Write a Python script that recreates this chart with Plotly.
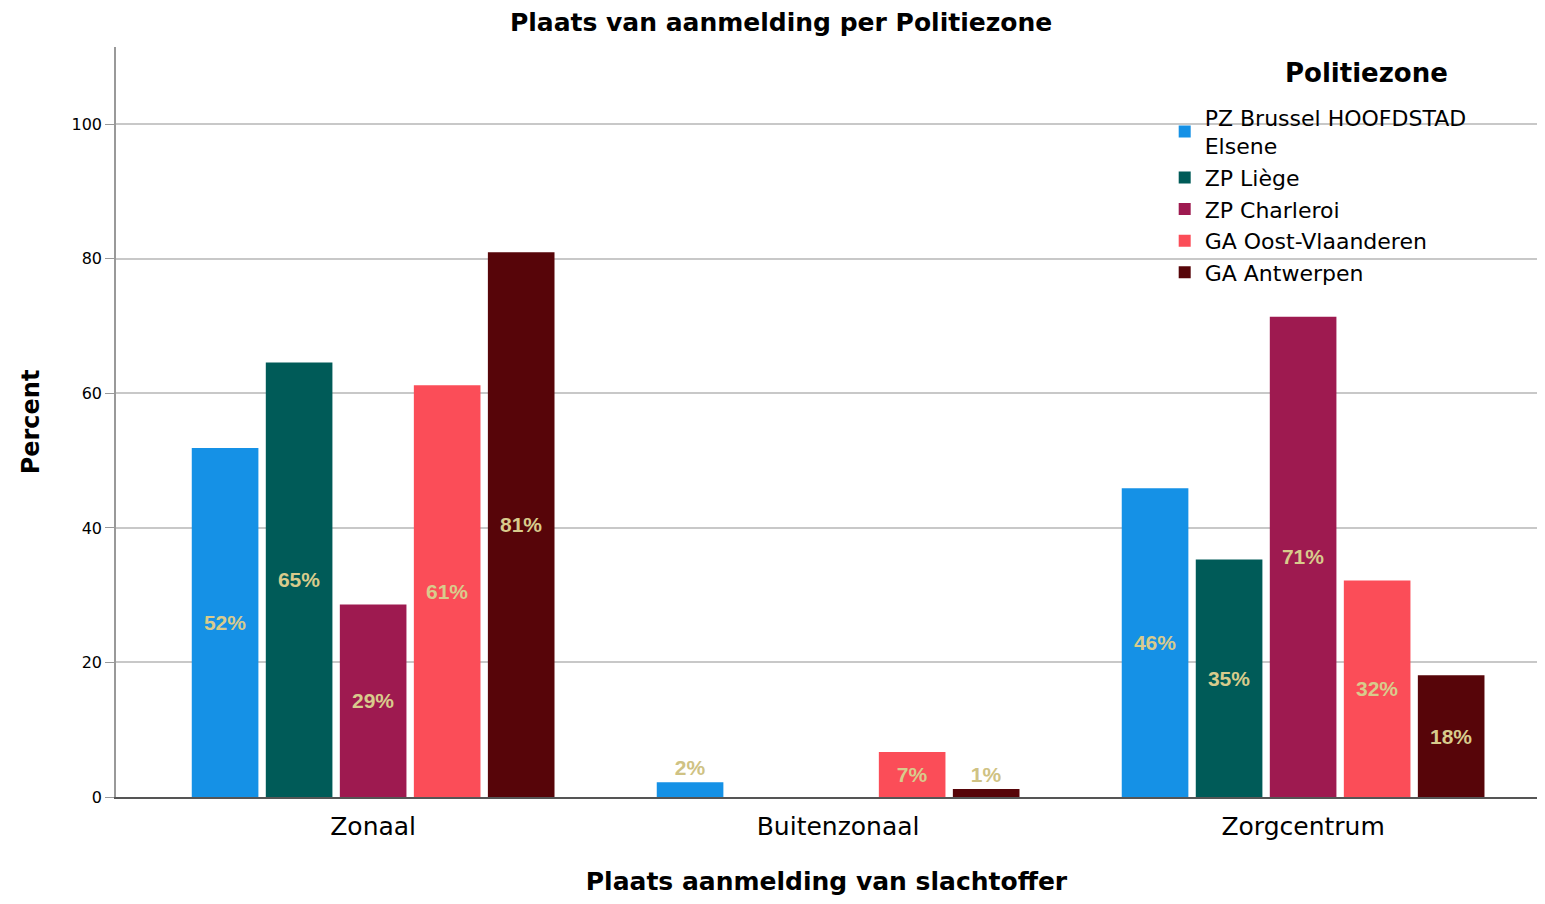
import plotly.graph_objects as go

categories = ["Zonaal", "Buitenzonaal", "Zorgcentrum"]
zones = ["PZ Brussel HOOFDSTAD<br>Elsene", "ZP Liège", "ZP Charleroi",
         "GA Oost-Vlaanderen", "GA Antwerpen"]
colors = ["#1591E6", "#005B58", "#9E1A50", "#FB4D58", "#570509"]

brussel = [51.9, 2.2, 45.9]
liege = [64.6, 0.0, 35.3]
charleroi = [28.6, 0.0, 71.4]
oostvl = [61.2, 6.7, 32.2]
antwerpen = [81.0, 1.2, 18.1]
values = [brussel, liege, charleroi, oostvl, antwerpen]

base_font = "DejaVu Sans, Liberation Sans, Arial, sans-serif"

fig = go.Figure()
for name, col, vals in zip(zones, colors, values):
    labels = [f"{v:.0f}%" if v > 0 else "" for v in vals]
    # very thin bars get the label just above them
    positions = ["inside" if v >= 3 else "outside" for v in vals]
    fig.add_trace(go.Bar(
        x=categories, y=vals, name=name, marker_color=col,
        marker_line_width=0, cliponaxis=False,
        text=labels, textposition=positions, insidetextanchor="middle",
        constraintext="none", textangle=0,
        textfont=dict(family="Liberation Sans Narrow, Arial Narrow, Liberation Sans, Arial",
                      size=21, color="#D8CB8C", weight="bold"),
        outsidetextfont=dict(family="Liberation Sans, Arial", size=21,
                             color="#CFC283", weight="bold"),
        hoverinfo="skip",
    ))

# legend heading placed like the SPSS output
fig.add_annotation(text="<b>Politiezone</b>", xref="paper", yref="paper",
                   x=0.880, y=0.965, xanchor="center", yanchor="middle",
                   showarrow=False, font=dict(size=26))

fig.update_layout(
    width=1529, height=888,
    paper_bgcolor="white", plot_bgcolor="white",
    margin=dict(l=108, r=0, t=39, b=99),
    barmode="group", bargap=0.204, bargroupgap=0.1,
    font=dict(family=base_font, color="#000000"),
    title=dict(text="<b>Plaats van aanmelding per Politiezone</b>",
               x=0.5056, xanchor="center", y=0.984, yanchor="middle",
               font=dict(size=25)),
    legend=dict(
        x=0.738, xanchor="left", y=0.934, yanchor="top",
        bgcolor="rgba(255,255,255,0)", font=dict(size=22),
        tracegroupgap=0, itemsizing="constant",
    ),
    xaxis=dict(
        range=[-0.553, 2.503], showgrid=False, ticks="", automargin=False,
        showline=True, linecolor="#555555", linewidth=1.5,
        tickfont=dict(size=25), ticklabelstandoff=6,
        title=dict(text="<b>Plaats aanmelding van slachtoffer</b>",
                   font=dict(size=25), standoff=44),
    ),
    yaxis=dict(
        range=[0, 111.5], tickvals=[0, 20, 40, 60, 80, 100], automargin=False,
        showgrid=True, gridcolor="#C8C8C8", gridwidth=1.5,
        showline=True, linecolor="#999999", linewidth=1.5,
        ticks="outside", ticklen=9, tickcolor="#999999",
        tickfont=dict(size=16), zeroline=False,
        title=dict(text="<b>Percent</b>", font=dict(size=24), standoff=25),
    ),
)

fig.write_html("out.html")
